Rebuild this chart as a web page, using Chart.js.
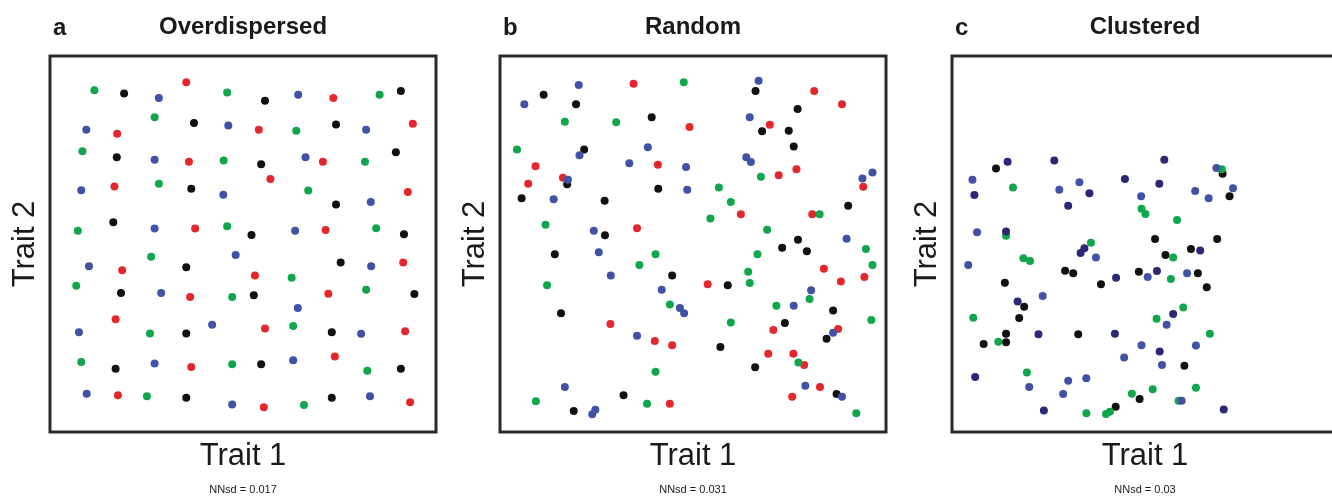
<!DOCTYPE html>
<html>
<head>
<meta charset="utf-8">
<script src="https://cdn.jsdelivr.net/npm/chart.js@4/dist/chart.umd.min.js"></script>
<style>
  body { margin: 0; width: 1332px; height: 498px; overflow: hidden; background: #fff; }
  canvas { position: absolute; top: 0; }
</style>
</head>
<body>
<canvas id="panelA" width="450" height="498" style="left:0px"></canvas>
<canvas id="panelB" width="450" height="498" style="left:450px"></canvas>
<canvas id="panelC" width="450" height="498" style="left:900px"></canvas>
<script>
// Trait values (0-100), one list per species colour

// a - Overdispersed
const aRed = [[35.3,93.0],[17.4,79.3],[36.0,71.9],[16.7,65.3],[37.6,54.1],[73.4,88.8],[54.1,80.4],[94.0,82.0],[70.7,71.9],[57.1,67.3],[92.7,63.8],[71.4,53.7],[18.7,43.0],[36.3,35.9],[17.0,30.0],[36.6,17.3],[17.6,9.8],[91.5,45.1],[53.1,41.6],[72.1,36.8],[55.7,27.5],[92.0,26.8],[73.8,20.1],[55.4,6.6],[93.3,7.9]];
const aGreen = [[11.5,90.9],[45.9,90.3],[27.1,83.7],[8.4,74.7],[45.0,72.2],[28.2,66.0],[7.2,53.5],[45.9,54.7],[85.4,89.7],[63.8,80.1],[81.6,71.9],[66.9,64.2],[84.5,54.2],[26.2,46.6],[6.8,38.9],[47.2,35.9],[25.9,26.2],[8.1,18.6],[47.2,18.0],[25.1,9.5],[62.6,41.0],[81.9,37.8],[63.0,28.2],[82.2,16.3],[65.8,7.2]];
const aBlue = [[28.2,88.8],[46.2,81.5],[9.4,80.4],[27.1,72.4],[8.1,64.3],[44.9,63.1],[27.1,54.1],[64.3,89.7],[81.9,80.4],[66.2,73.1],[83.1,61.2],[63.5,53.5],[48.1,47.1],[10.1,44.1],[28.8,37.0],[7.5,26.5],[42.0,28.5],[27.1,18.2],[9.5,10.2],[47.2,7.3],[83.2,44.1],[64.2,33.0],[80.6,26.1],[63.0,19.1],[82.9,9.5]];
const aBlack = [[19.2,90.0],[37.3,82.2],[17.3,73.1],[36.6,64.7],[16.4,55.8],[55.7,88.1],[90.9,90.7],[74.1,81.8],[89.6,74.4],[54.7,71.2],[74.1,60.5],[52.2,52.4],[91.7,52.6],[35.3,43.8],[18.4,37.0],[35.3,26.2],[17.0,16.8],[35.3,9.1],[75.3,45.1],[52.8,36.4],[94.4,36.7],[73.0,26.5],[54.7,18.0],[90.9,16.8],[73.0,9.1]];

// b - Random
const bRed = [[34.6,92.6],[49.1,81.1],[40.9,71.1],[9.2,70.7],[7.3,66.0],[16.3,67.6],[35.5,54.2],[81.4,90.7],[88.6,87.2],[69.9,81.7],[72.2,68.3],[76.8,69.9],[94.1,65.2],[62.4,57.9],[80.9,57.9],[28.6,28.7],[40.1,24.2],[44.6,23.1],[44.0,7.5],[83.9,43.4],[88.3,40.0],[94.4,41.2],[53.8,39.3],[70.8,27.1],[87.6,27.4],[69.5,20.8],[76.0,20.8],[78.8,17.8],[82.9,12.0],[75.7,9.4]];
const bGreen = [[47.6,93.0],[16.8,82.5],[30.1,82.4],[4.4,75.1],[11.8,55.1],[67.6,67.9],[56.7,65.0],[59.8,61.2],[54.5,56.8],[82.8,57.9],[69.2,53.8],[40.3,47.3],[36.1,44.4],[12.2,39.0],[44.0,33.9],[40.3,16.0],[9.3,8.2],[38.1,7.5],[66.7,47.3],[94.8,48.7],[96.5,44.4],[64.3,42.6],[64.7,39.6],[80.2,35.4],[71.6,33.6],[96.2,29.8],[59.8,29.1],[77.3,18.5],[92.3,5.0]];
const bBlue = [[20.4,92.3],[6.3,87.2],[20.6,73.6],[38.3,75.7],[33.5,71.5],[48.2,70.5],[17.6,67.1],[48.5,64.4],[13.9,61.9],[24.3,53.5],[67.0,93.4],[64.7,83.7],[63.8,73.1],[65.0,71.8],[96.5,69.0],[93.9,67.4],[89.8,51.4],[25.6,47.8],[28.7,41.6],[41.9,37.8],[46.6,33.0],[47.7,31.6],[35.5,25.6],[16.8,12.0],[24.7,5.9],[23.9,4.7],[80.6,37.7],[76.1,33.6],[86.3,26.4],[79.1,12.3],[88.6,9.4]];
const bBlack = [[11.3,89.7],[19.7,87.2],[39.3,83.7],[21.8,75.1],[17.4,65.9],[41.0,64.7],[5.6,62.2],[27.1,61.5],[27.2,52.3],[66.2,90.7],[77.1,85.9],[67.9,80.0],[74.8,80.1],[76.1,75.9],[90.2,60.2],[77.2,51.1],[14.2,47.3],[44.6,41.6],[15.8,31.6],[32.0,9.8],[19.1,5.6],[73.1,49.0],[79.5,48.1],[59.0,39.0],[86.3,32.3],[73.8,29.0],[84.6,24.8],[57.1,22.6],[66.1,17.2],[87.2,10.1]];

// c - Clustered
const cGreen = [[15.8,65.0],[49.1,59.4],[50.1,58.0],[14.0,52.2],[36.0,50.3],[69.9,69.9],[58.3,56.4],[18.5,46.2],[20.2,45.5],[5.5,30.4],[12.0,24.0],[19.4,15.8],[46.6,10.2],[34.8,5.0],[39.9,4.8],[40.9,5.4],[57.3,46.4],[56.7,40.7],[59.9,33.1],[53.0,30.1],[66.8,26.1],[52.0,11.4],[63.2,11.8],[58.7,8.3]];
const cNavy = [[14.4,71.9],[26.5,72.2],[5.8,63.0],[35.6,63.5],[30.1,60.2],[44.8,67.3],[14.0,53.3],[55.0,72.4],[53.7,66.0],[33.3,47.6],[34.3,48.9],[42.5,41.0],[17.0,34.7],[22.4,26.0],[42.2,26.1],[6.0,14.6],[23.8,5.7],[64.3,48.3],[53.1,42.8],[57.3,31.4],[53.8,21.4],[70.4,6.0]];
const cBlue = [[5.3,67.1],[27.8,64.4],[33.0,66.4],[49.0,62.7],[6.5,53.1],[68.5,70.2],[63.0,64.1],[66.5,62.2],[72.8,64.8],[37.3,46.4],[4.2,44.4],[23.5,36.2],[49.1,23.1],[44.6,19.8],[20.0,12.0],[30.1,13.6],[34.8,14.3],[28.8,10.1],[50.7,41.2],[60.9,42.2],[55.6,28.5],[63.2,23.0],[54.4,17.8],[59.5,8.3]];
const cBlack = [[11.4,70.1],[70.1,68.7],[71.9,62.7],[52.6,51.3],[68.7,51.3],[29.3,42.9],[31.4,42.2],[13.7,39.7],[38.6,39.3],[48.4,42.6],[18.7,33.3],[17.4,30.3],[14.0,26.1],[14.0,23.9],[8.2,23.4],[32.7,26.0],[48.6,8.8],[42.4,6.7],[55.3,47.1],[61.9,48.7],[63.7,42.2],[66.0,38.5],[60.2,17.6]];

const panelLetters = ['a', 'b', 'c'];
const panelTitles = ['Overdispersed', 'Random', 'Clustered'];
const nnsdLabels = ['NNsd = 0.017', 'NNsd = 0.031', 'NNsd = 0.03'];

const colRed = '#e4272d';
const colGreen = '#10a64c';
const colBlue = '#4152a6';
const colNavy = '#2c2876';
const colBlack = '#111111';

const FONT = '"Liberation Sans", Arial, sans-serif';

// box around the plot area plus all panel text
const panelText = {
  id: 'panelText',
  afterDraw(chart, args, opts) {
    const ctx = chart.ctx;
    const a = chart.chartArea;
    const mid = (a.left + a.right) / 2;
    ctx.save();
    ctx.strokeStyle = '#2a2a2a';
    ctx.lineWidth = 3;
    ctx.strokeRect(a.left, a.top, a.right - a.left, a.bottom - a.top);

    ctx.fillStyle = '#1a1a1a';
    ctx.textBaseline = 'middle';
    ctx.font = 'bold 24px ' + FONT;
    ctx.textAlign = 'left';
    ctx.fillText(opts.letter, a.left + 3, 28);
    ctx.textAlign = 'center';
    ctx.fillText(opts.title, mid, 27);

    ctx.font = '31px ' + FONT;
    ctx.fillText('Trait 1', mid, a.bottom + 24);
    ctx.font = '11px ' + FONT;
    ctx.fillText(opts.note, mid, a.bottom + 58);

    ctx.translate(a.left - 25, (a.top + a.bottom) / 2);
    ctx.rotate(-Math.PI / 2);
    ctx.font = '31px ' + FONT;
    ctx.fillText('Trait 2', 0, 0);
    ctx.restore();
  }
};

function toPoints(list) {
  return list.map(p => ({ x: p[0], y: p[1] }));
}

function makeSet(list, color) {
  return {
    data: toPoints(list),
    backgroundColor: color,
    borderColor: color,
    borderWidth: 0,
    pointRadius: 4,
    pointHoverRadius: 4
  };
}

function makePanel(id, index, sets, padLeft) {
  const ctx = document.getElementById(id).getContext('2d');
  return new Chart(ctx, {
    type: 'scatter',
    data: { datasets: sets },
    options: {
      responsive: false,
      animation: false,
      devicePixelRatio: 1,
      events: [],
      layout: { padding: { left: padLeft, right: 450 - padLeft - 386, top: 56, bottom: 66 } },
      scales: {
        x: { min: 0, max: 100, display: false },
        y: { min: 0, max: 100, display: false }
      },
      plugins: {
        legend: { display: false },
        tooltip: { enabled: false },
        panelText: { letter: panelLetters[index], title: panelTitles[index], note: nnsdLabels[index] }
      }
    },
    plugins: [panelText]
  });
}

makePanel('panelA', 0, [
  makeSet(aBlue, colBlue), makeSet(aGreen, colGreen), makeSet(aRed, colRed), makeSet(aBlack, colBlack)
], 50);

makePanel('panelB', 1, [
  makeSet(bBlue, colBlue), makeSet(bGreen, colGreen), makeSet(bRed, colRed), makeSet(bBlack, colBlack)
], 50);

makePanel('panelC', 2, [
  makeSet(cBlue, colBlue), makeSet(cNavy, colNavy), makeSet(cGreen, colGreen), makeSet(cBlack, colBlack)
], 52);
</script>
</body>
</html>
